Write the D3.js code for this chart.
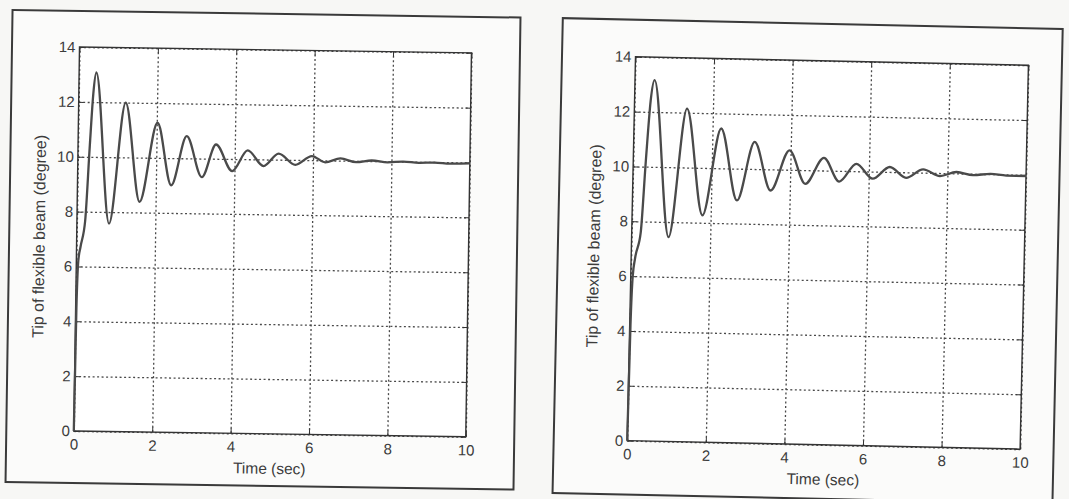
<!DOCTYPE html>
<html>
<head>
<meta charset="utf-8">
<script src="https://cdn.jsdelivr.net/npm/d3@7"></script>
<style>
    body { margin: 0; background: #f7f7f5; }
    text { font-family: 'Liberation Sans', Arial, sans-serif; fill: #3c3c3c; }
</style>
</head>
<body>
<div id="chart"></div>
<script>
var width = 1069,
    height = 499;

// response (time in sec, tip angle in degree)
const leftTime  = [0, 0.02, 0.05, 0.1, 0.21, 0.3, 0.37, 0.44, 0.82, 1.2, 1.59, 2.02, 2.39, 2.77, 3.17,
                   3.52, 3.94, 4.33, 4.74, 5.12, 5.55, 5.97, 6.31, 6.7, 7.1, 7.5, 7.9, 8.3, 8.7, 9.1, 9.5, 10];
const leftAngle = [0, 4.5, 6.2, 6.7, 7.66, 10.4, 12.3, 13.08, 7.58, 12.0, 8.39, 11.28, 9.01, 10.81, 9.32,
                   10.52, 9.56, 10.32, 9.76, 10.22, 9.82, 10.15, 9.93, 10.08, 9.95, 10.02, 9.96, 10.0, 9.96, 9.98, 9.95, 9.97];

// response
const rightTime  = [0, 0.02, 0.05, 0.1, 0.23, 0.32, 0.41, 0.5, 0.94, 1.34, 1.79, 2.22, 2.66, 3.08, 3.51,
                    3.97, 4.39, 4.85, 5.25, 5.68, 6.1, 6.53, 6.95, 7.38, 7.81, 8.23, 8.65, 9.1, 9.5, 10];
const rightAngle = [0, 4.2, 6.0, 6.65, 7.6, 10.2, 12.4, 13.16, 7.45, 12.15, 8.27, 11.45, 8.84, 10.99, 9.23,
                    10.71, 9.5, 10.46, 9.61, 10.27, 9.74, 10.18, 9.8, 10.12, 9.89, 10.05, 9.95, 10.01, 9.96, 9.96];

const xTicks = [0, 2, 4, 6, 8, 10];
const yTicks = [0, 2, 4, 6, 8, 10, 12, 14];
const xLabel = 'Time (sec)';
const yLabel = 'Tip of flexible beam (degree)';

// the scan is a little tilted, so each panel gets its own small rotation
const panels = [
    { time: leftTime, angle: leftAngle, x0: 79.5, y0: 47, w: 392, h: 384, rot: 0.85,
      frame: { l: -67.5, t: -36, r: 440.5, b: 436 } },
    { time: rightTime, angle: rightAngle, x0: 635.5, y0: 56.7, w: 393, h: 384, rot: 1.24,
      frame: { l: -73.5, t: -37, r: 426.5, b: 438 } }
];

var svg = d3.select('#chart').append('svg')
    .attr('width', width)
    .attr('height', height);

svg.append('rect')
    .attr('width', width)
    .attr('height', height)
    .attr('fill', '#f7f7f5');

panels.forEach(p => {
    const g = svg.append('g')
        .attr('transform', `translate(${p.x0},${p.y0}) rotate(${p.rot})`);

    // outer figure border
    g.append('rect')
        .attr('x', p.frame.l)
        .attr('y', p.frame.t)
        .attr('width', p.frame.r - p.frame.l)
        .attr('height', p.frame.b - p.frame.t)
        .attr('fill', '#fbfbfa')
        .attr('stroke', '#3a3a3a')
        .attr('stroke-width', 2);

    const x = d3.scaleLinear().domain([0, 10]).range([0, p.w]);
    const y = d3.scaleLinear().domain([0, 14]).range([p.h, 0]);

    g.append('rect')
        .attr('width', p.w)
        .attr('height', p.h)
        .attr('fill', '#ffffff');

    // dotted grid
    g.append('g')
        .attr('class', 'grid')
        .attr('transform', `translate(0,${p.h})`)
        .call(d3.axisBottom(x).tickValues(xTicks).tickSize(-p.h).tickFormat(''));
    g.append('g')
        .attr('class', 'grid')
        .call(d3.axisLeft(y).tickValues(yTicks).tickSize(-p.w).tickFormat(''));
    g.selectAll('.grid .domain').remove();
    g.selectAll('.grid line')
        .attr('stroke', '#4a4a4a')
        .attr('stroke-width', 1.3)
        .attr('stroke-dasharray', '2,2.5');

    // axes with inward ticks
    const xb = g.append('g')
        .attr('transform', `translate(0,${p.h})`)
        .call(d3.axisBottom(x).tickValues(xTicks).tickSize(-5).tickPadding(8));
    const yl = g.append('g')
        .call(d3.axisLeft(y).tickValues(yTicks).tickSize(-5).tickPadding(4));
    g.append('g')
        .call(d3.axisTop(x).tickValues(xTicks).tickSize(-5).tickFormat(''));
    g.append('g')
        .attr('transform', `translate(${p.w},0)`)
        .call(d3.axisRight(y).tickValues(yTicks).tickSize(-5).tickFormat(''));
    g.selectAll('.domain').remove();
    g.selectAll('.tick line').filter(function () { return !this.parentNode.parentNode.classList.contains('grid'); })
        .attr('stroke', '#333');
    [xb, yl].forEach(a => {
        a.attr('font-family', null);
        a.selectAll('text').attr('fill', '#3c3c3c').style('font-size', '15px');
    });

    g.append('rect')
        .attr('width', p.w)
        .attr('height', p.h)
        .attr('fill', 'none')
        .attr('stroke', '#333')
        .attr('stroke-width', 1.4);

    // response curve
    const pts = p.time.map((t, i) => [t, p.angle[i]]);
    const line = d3.line()
        .x(d => x(d[0]))
        .y(d => y(d[1]))
        .curve(d3.curveMonotoneX);
    g.append('path')
        .datum(pts)
        .attr('fill', 'none')
        .attr('stroke', '#4a4a4a')
        .attr('stroke-width', 2.3)
        .attr('d', line);

    g.append('text')
        .attr('x', p.w / 2)
        .attr('y', p.h + 40)
        .attr('text-anchor', 'middle')
        .style('font-size', '15.5px')
        .text(xLabel);

    g.append('text')
        .attr('transform', `translate(-32,${p.h / 2 - 2}) rotate(-90)`)
        .attr('text-anchor', 'middle')
        .style('font-size', '16px')
        .text(yLabel);
});
</script>
</body>
</html>
